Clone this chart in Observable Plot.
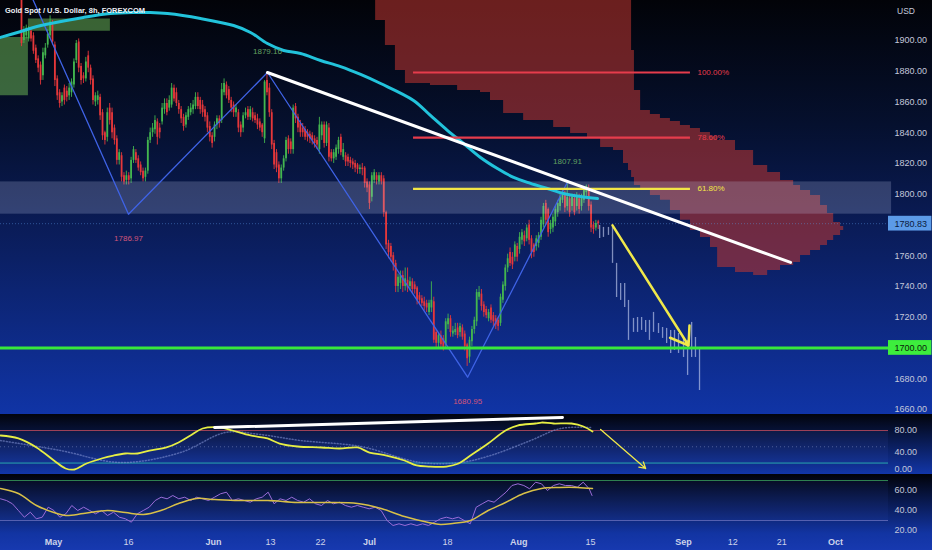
<!DOCTYPE html>
<html><head><meta charset="utf-8">
<script src="https://cdn.jsdelivr.net/npm/d3@7"></script>
<script src="https://cdn.jsdelivr.net/npm/@observablehq/plot@0.6"></script>
<style>
html,body{margin:0;padding:0;background:#02040b;}
#wrap{position:relative;width:932px;height:550px;overflow:hidden;font-family:"Liberation Sans",Arial,sans-serif;}
.pane{position:absolute;left:0;width:932px;}
.pane svg{display:block;}
#p1{top:0;height:414px;background:linear-gradient(#020308 0%,#05102e 30%,#0a1c58 55%,#1034a6 100%);}
#p2{top:414px;height:60px;background:linear-gradient(#02040c,#1236a8);}
#p3{top:474px;height:76px;background:linear-gradient(#010208 0%,#1234a2 78%,#1739b0 100%);}
#title{position:absolute;left:5px;top:6px;color:#eef1f7;font-size:7.5px;font-weight:bold;}
#usd{position:absolute;left:897px;top:6px;color:#c4c9dc;font-size:8.5px;}
</style></head>
<body><div id="wrap"><div class="pane" id="p1"></div><div class="pane" id="p2"></div><div class="pane" id="p3"></div>
<div id="title">Gold Spot / U.S. Dollar, 8h, FOREXCOM</div><div id="usd">USD</div></div>
<script>
// ---------- data (x unit = 8h bar index) ----------
const barOpen = [1926,1900,1903,1901,1906,1903,1895,1888,1884,1877,1890,1897,1903,1910,1897,1875,1866,1860,1869,1867,1864,1866,1871,1887,1899,1883,1877,1875,1890,1882,1875,1860,1861,1863,1853,
1840,1837,1856,1853,1843,1836,1822,1825,1812,1809,1812,1810,1822,1827,1823,1819,1815,1811,1815,1835,1840,1842,1847,1843,1847,1855,1859,1856,1858,1869,1866,1859,1855,1850,1845,1850,1853,1855,1857,1863,1861,1858,
1855,1851,1844,1838,1837,1845,1849,1848,1866,1871,1868,1861,1858,1853,1853,1845,1843,1851,1855,1850,1853,1851,1849,1847,1845,1836,1874,1869,1853,1833,1827,1819,1810,1817,1823,1836,1834,1829,1857,1850,1846,1843,
1842,1840,1839,1838,1836,1835,1829,1838,1845,1833,1843,1827,1823,1824,1829,1837,1824,1825,1824,1822,1821,1820,1819,1816,1817,1817,1808,1806,1798,1809,1812,1808,1812,1810,1788,1768,1766,1760,1755,1740,1742,1747,
1740,1744,1740,1743,1741,1739,1734,1732,1730,1729,1723,1726,1730,1710,1703,1708,1706,1702,1715,1719,1709,1710,1713,1710,1713,1709,1702,1694,1704,1712,1717,1733,1735,1728,1725,1719,1726,1721,1719,1718,1716,1731,
1740,1752,1762,1759,1759,1766,1764,1770,1773,1771,1780,1771,1767,1766,1768,1772,1780,1794,1790,1777,1778,1782,1788,1792,1796,1799,1792,1797,1792,1797,1792,1797,1792,1796,1801,1803,1793,1780,1778,1782];
const barHigh = [1930,1909,1910,1909,1908,1905,1897,1890,1886,1895,1898,1907,1916,1913,1899,1877,1868,1866,1871,1870,1872,1875,1888,1900,1901,1885,1879,1889,1893,1884,1877,1866,1867,1865,1855,
1841,1856,1859,1856,1845,1838,1829,1827,1814,1815,1814,1824,1831,1829,1825,1821,1817,1817,1837,1843,1846,1851,1849,1846,1859,1862,1862,1864,1872,1871,1869,1861,1857,1852,1853,1857,1859,1861,1866,1866,1863,1861,
1857,1853,1847,1840,1847,1851,1851,1872,1875,1873,1870,1863,1860,1858,1855,1847,1853,1856,1857,1857,1856,1853,1852,1849,1846,1874,1879.16,1872,1855,1835,1829,1821,1819,1825,1837,1838,1836,1858,1859,1852,1848,1846,
1844,1842,1841,1840,1838,1837,1850,1847,1847,1847,1846,1829,1829,1832,1837,1839,1833,1827,1826,1824,1823,1822,1820,1819,1820,1818,1810,1808,1814,1816,1814,1814,1814,1812,1789,1770,1768,1762,1757,1748,1750,1750,
1752,1752,1746,1745,1743,1740,1736,1734,1733,1731,1731,1743,1733,1712,1710,1711,1708,1719,1722,1721,1714,1716,1716,1716,1715,1711,1703,1707,1714,1720,1738,1740,1738,1730,1727,1725,1728,1723,1721,1720,1735,1743,
1754,1761,1765,1762,1769,1768,1775,1777,1776,1780,1783,1773,1768,1773,1775,1785,1794,1796,1791,1783,1787,1792,1796,1800,1803,1802,1807.91,1800,1800,1800,1801,1800,1800,1805,1806,1806,1795,1782,1783,1783];
const barLow = [1896,1898,1901,1899,1899,1891,1885,1879,1871,1874,1888,1895,1901,1897,1870,1861,1856,1857,1858,1860,1861,1863,1869,1885,1879,1871,1872,1873,1879,1871,1858,1857,1858,1848,1835,
1832,1834,1845,1836,1832,1819,1819,1808,1806,1806,1806,1807,1820,1820,1815,1812,1808,1808,1813,1833,1837,1839,1832,1836,1845,1852,1851,1854,1856,1860,1857,1852,1846,1841,1843,1848,1851,1852,1855,1855,1852,1850,
1847,1840,1834,1830,1834,1842,1843,1846,1864,1862,1859,1853,1850,1850,1840,1837,1840,1849,1848,1848,1847,1846,1842,1841,1837,1833,1864,1850,1829,1816,1814,1807,1807,1815,1821,1826,1826,1826,1846,1840,1837,1837,
1835,1834,1833,1832,1830,1829,1826,1835,1830,1831,1821,1821,1820,1822,1826,1825,1822,1818,1818,1817,1816,1814,1813,1813,1812,1804,1801,1790,1795,1807,1806,1806,1806,1785,1764,1758,1756,1750,1736,1736,1738,1736,
1737,1736,1737,1735,1735,1728,1728,1727,1724,1723,1721,1723,1703,1700,1700,1699,1698,1699,1712,1707,1707,1708,1706,1707,1705,1698,1688,1690,1701,1709,1714,1731,1724,1720,1719,1717,1716,1714,1712,1711,1714,1729,
1737,1749,1753,1751,1756,1756,1761,1767,1766,1769,1767,1758,1759,1763,1765,1770,1778,1780,1772,1774,1775,1779,1785,1789,1794,1788,1789,1785,1789,1786,1789,1787,1789,1794,1798,1789,1775,1774,1776,1777];
const barClose = [1898,1907,1908,1906,1901,1893,1887,1882,1874,1892,1895,1904,1912,1899,1874,1864,1859,1864,1861,1863,1869,1873,1886,1898,1882,1874,1875,1886,1882,1874,1861,1864,1864,1851,1838,
1835,1853,1848,1840,1835,1822,1827,1811,1808,1812,1809,1822,1829,1822,1817,1814,1810,1815,1835,1840,1843,1848,1837,1840,1856,1859,1853,1861,1869,1862,1859,1855,1849,1844,1851,1855,1856,1858,1863,1857,1855,1853,
1850,1843,1837,1833,1845,1849,1846,1868,1872,1864,1861,1856,1853,1856,1843,1840,1851,1853,1850,1855,1849,1848,1845,1843,1840,1873,1866,1853,1832,1819,1817,1810,1817,1823,1835,1829,1829,1856,1849,1843,1840,1840,
1837,1837,1836,1835,1833,1832,1845,1845,1833,1845,1824,1823,1827,1830,1835,1827,1829,1821,1821,1820,1819,1817,1816,1817,1816,1807,1804,1794,1812,1814,1809,1812,1808,1788,1767,1762,1759,1754,1740,1746,1747,1740,
1745,1739,1743,1738,1738,1731,1731,1729,1727,1726,1729,1731,1705,1703,1708,1702,1700,1717,1719,1710,1711,1712,1708,1714,1707,1701,1693,1705,1712,1718,1736,1736,1727,1723,1721,1723,1718,1717,1715,1714,1733,1741,
1752,1758,1755,1754,1767,1759,1772,1775,1769,1778,1770,1762,1762,1771,1773,1783,1792,1783,1775,1781,1785,1790,1794,1798,1801,1791,1798,1788,1798,1788,1799,1790,1798,1803,1805,1792,1778,1777,1781,1780.83];

// projected (ghost) bars
const ghostBar  = [242.6,244.2,246.3,248.0,249.7,251.4,253.1,254.7,256.8,258.5,260.2,261.9,263.5,265.2,267.3,269.0,270.7,272.4,274.0,275.7,277.8,279.5,281.2,282.8,284.5];
const ghostHigh = [1779.7,1778.4,1778.4,1779.7,1755,1741.9,1741.9,1730.9,1719.2,1719.8,1719.8,1717.9,1717.9,1723.1,1715.9,1713.3,1712.7,1711.4,1711.4,1709.4,1706.2,1704.9,1716.6,1706.8,1700.3];
const ghostLow  = [1771.2,1771.9,1773.2,1755,1732.8,1730.9,1726.3,1704.9,1710.1,1710.1,1711.4,1710.1,1704.9,1710.1,1709.4,1706.2,1702.9,1696.4,1698.4,1696.4,1693.8,1682.1,1693.8,1693.8,1672.3];

// moving average
const maBar = [-8.8,-1.7,5.0,12.2,26.0,37.3,47.0,54.1,61.3,75.1,89.0,96.1,103.2,110.0,117.1,125.5,133.9,142.3,150.7,164.5,171.6,178.8,185.5,192.6,199.7,206.5,213.6,220.7,227.4,234.6,241.7];
const maVal = [1902,1905.2,1908.4,1911,1915,1917.5,1918.2,1918.2,1917.5,1914.3,1909.7,1905.2,1898,1893.5,1891.5,1887,1883,1877.9,1872,1861,1851.2,1841.4,1833,1823.9,1816.7,1810.9,1807,1803.7,1800.5,1798.5,1797.2];

// ichimoku clouds
const greenCloudBar = [-9, 2.9, 37.3];
const greenCloudLo  = [1864, 1906, 1906];
const greenCloudHi  = [1902, 1914, 1914];
const redCloudBar = [144.4,148.6,152.7,156.9,161.1,171.6,183.0,192.6,196.8,202.3,210.7,223.3,230.4,237.5,243.0,248.4,252.6,254.7,256.0,257.2,259.8,263.9,268.1,272.3,276.5,280.7,284.9,289.1,292.1,299.6,307.2,313.1,318.5,324.0,326.9,331.1,335.3,338.2,340.8,343.7,345.0];
const redCloudHi  = [1940,1940,1940,1940,1940,1940,1940,1940,1940,1940,1940,1940,1940,1940,1940,1940,1940,1926,1893.5,1867.5,1854.5,1851.9,1849.3,1847.3,1844.7,1842.7,1840.1,1837.5,1834.9,1828.4,1818.7,1814.1,1808.9,1805.7,1802.4,1799.2,1792.7,1787.5,1781.6,1779,1779];
const redCloudLo  = [1926,1913,1896.7,1880.5,1872,1870.7,1867.5,1866.2,1861,1852.5,1848,1843.4,1839.5,1836.9,1830.4,1828.4,1820,1815.4,1810.9,1805.7,1802.4,1799.2,1796,1789.4,1783,1776.4,1771.9,1765.4,1752.3,1749.1,1747.1,1750.4,1753.6,1755.6,1760.1,1763.4,1766.6,1769.9,1773.2,1776.4,1776.4];

// drawings
const zzBar = [3.1, 44.9, 103.2, 187.2, 229.1];
const zzPrice = [1932.5, 1786.97, 1879.16, 1680.95, 1807.91];
const fibLevels = [1879.16, 1836.75, 1803.45];
const fibLabels = ["100.00%", "78.60%", "61.80%"];
const fibFrom = 164.5, fibTo = 280.7;
const trendBar = [103.2, 322.7], trendPrice = [1879.16, 1755.6];
const arrowBar = [248, 279.9], arrowPrice = [1779.7, 1701.6];
const zoneLow = 1787, zoneHigh = 1808;
const supportLevel = 1700, lastPrice = 1780.83;
const priceTicks = [1660,1680,1700,1720,1740,1760,1780,1800,1820,1840,1860,1880,1900];

// oscillator 1 (stochastic)
const stochBar = [-8.8,-1.3,6.3,13.6,18.5,22.2,27.3,33.6,38.6,43.6,48.7,53.7,60.8,65.9,70.9,76.0,83.5,88.5,96.1,103.2,108.3,115.8,125.9,133.4,141.0,146.0,153.2,160.7,165.8,170.8,178.3,183.4,188.4,195.8,203.1,208.1,215.7,218.2,223.2,230.8,235.8,239.6];
const stochK = [70.8,65.3,48.7,24.7,10.0,8.1,19.2,28.4,33.9,37.6,37.6,43.1,48.7,57.9,70.8,83.7,85.5,80.0,70.8,65.3,56.0,50.5,48.7,46.8,48.7,39.4,33.9,24.7,15.5,13.6,13.6,19.2,33.9,56.0,80.0,89.2,92.9,94.7,92.9,92.9,87.4,78.2];
const sigBar = [-8.8,16.4,41.5,66.7,85.6,100.3,117.1,142.3,167.4,184.2,196.8,213.6,226.2,238.8];
const sigD = [61.5,43.1,21,39.4,76.3,72.6,61.5,50.5,21,21,33.9,61.5,83.7,85.5];
const stochTrendBar = [81.0, 227.0], stochTrendVal = [85.5, 103.9];
const stochArrowBar = [243.0, 261.9], stochArrowVal = [81.8, 10.0];
const stochTicks = [0, 40, 80];

// oscillator 2 (RSI)
const rsiBar = [-8.8,-6.3,-3.8,-1.3,1.2,3.7,6.2,8.7,11.2,13.6,16.1,18.6,21.1,23.6,26.1,28.6,31.1,33.6,36.1,38.6,41.1,43.6,46.1,48.6,51.1,53.6,56.1,58.6,61.1,63.5,66.0,68.5,71.0,73.5,76.0,78.5,81.0,83.5,86.0,88.5,91.0,93.5,96.0,98.5,101.0,103.5,106.0,108.5,111.0,113.4,115.9,118.4,120.9,123.4,125.9,128.4,130.9,133.4,135.9,138.4,140.9,143.4,145.9,148.4,150.9,153.4,155.9,158.4,160.9,163.4,165.9,168.3,170.8,173.3,175.8,178.3,180.8,183.3,185.8,188.3,190.8,193.3,195.8,198.3,200.8,203.3,205.8,208.3,210.8,213.2,215.7,218.2,220.7,223.2,225.7,228.2,230.7,233.2,235.7,238.2,239.4];
const rsiVal = [51.7,50,46.7,40,33.3,38.3,31.7,33.3,43.3,40,33.3,36.7,45,40,43.3,40,36.7,40,35,38.3,33.3,31.7,28.3,36.7,40,43.3,50,53.3,51.7,55,51.7,53.3,50,53.3,51.7,50,53.3,56.7,58.3,50,51.7,50,48.3,51.7,53.3,58.3,46.7,51.7,50,53.3,50,48.3,51.7,46.7,45,50,46.7,48.3,45,43.3,45,43.3,41.7,43.3,40,30,25,26.7,25,26.7,25,26.7,25,28.3,31.7,33.3,31.7,33.3,30,26.7,43.3,46.7,50,48.3,53.3,58.3,65,66.7,65,61.7,68.3,66.7,60,65,66.7,65,65,63.3,68.3,61.7,55];
const rsiMaBar = [-8.8,-1.3,6.3,13.6,18.5,26.0,36.1,43.6,51.2,58.5,65.9,73.4,81.0,91.1,103.4,115.8,128.4,141.0,150.9,160.7,170.8,175.8,180.9,188.4,195.8,203.1,210.7,218.2,225.8,233.3,239.6];
const rsiMa = [62,57,45,38,35,37,40,38,36,40,47,52,51,50,50,48,48,47,42,34,28,26,27,30,40,48,57,62,63,63,62];
const rsiTicks = [20, 40, 60];

// time axis
const tickBars = [13.4,44.9,80.6,104.5,125.5,146.0,178.8,208.6,238.8,277.8,298.4,319.0,341.6];
const tickLabels = ["May","16","Jun","13","22","Jul","18","Aug","15","Sep","12","21","Oct"];

// ---------- build ----------
const xMin = -8.81, xMax = 363.8;
const W = 932, MR = 44;
const candles = barOpen.map((o, i) => ({i, o, h: barHigh[i], l: barLow[i], c: barClose[i]}));
const up = d => d.c >= d.o ? "#43b64f" : "#e5373a";
const ghosts = ghostBar.map((b, i) => ({b, h: ghostHigh[i], l: ghostLow[i]}));
const ma = maBar.map((b, i) => ({b, v: maVal[i]}));
const gCloud = greenCloudBar.map((b, i) => ({b, lo: greenCloudLo[i], hi: greenCloudHi[i]}));
const rCloud = redCloudBar.map((b, i) => ({b, lo: redCloudLo[i], hi: redCloudHi[i]}));
const zz = zzBar.map((b, i) => ({b, p: zzPrice[i], i}));
const zzLows = zz.filter(d => d.i % 2 === 1), zzHighs = zz.filter(d => d.i > 0 && d.i % 2 === 0);
const fibs = fibLevels.map((v, i) => ({v, label: fibLabels[i], i}));
const fibColor = d => d.i === 2 ? "#f2e646" : "#e63c4c";
const axisFill = "#c3c8da";
const font = "Liberation Sans, Arial, sans-serif";

const main = Plot.plot({
  width: W, height: 414, marginLeft: 0, marginRight: MR, marginTop: 0, marginBottom: 0,
  style: {background: "transparent", overflow: "visible", fontFamily: font},
  x: {domain: [xMin, xMax], axis: null},
  y: {domain: [1656.7, 1926], axis: null},
  marks: [
    Plot.areaY(gCloud, {x: "b", y1: "lo", y2: "hi", curve: "step-after", fill: "#68b054", fillOpacity: 0.55, clip: true}),
    Plot.areaY(rCloud, {x: "b", y1: "lo", y2: "hi", curve: "step-after", fill: "#c33732", fillOpacity: 0.55, clip: true}),
    Plot.ruleX(candles, {x: "i", y1: "l", y2: "h", stroke: up, strokeWidth: 0.9, clip: true}),
    Plot.ruleX(candles, {x: "i", y1: "o", y2: "c", stroke: up, strokeWidth: 1.8, clip: true}),
    Plot.rect([0], {x1: xMin, x2: xMax + 1.3, y1: zoneLow, y2: zoneHigh, fill: "#c8d0f0", fillOpacity: 0.22}),
    Plot.ruleY([lastPrice], {stroke: "#5c9be8", strokeOpacity: 0.45, strokeDasharray: "1,2"}),
    Plot.ruleX(ghosts, {x: "b", y1: "l", y2: "h", stroke: "#c0cbee", strokeOpacity: 0.65, strokeWidth: 1.3}),
    Plot.line(zz, {x: "b", y: "p", stroke: "#3f63e6", strokeWidth: 1.3, clip: true}),
    Plot.line(ma, {x: "b", y: "v", curve: "catmull-rom", stroke: "#22c3db", strokeWidth: 3, clip: true}),
    Plot.ruleY(fibs, {y: "v", x1: fibFrom, x2: fibTo, stroke: fibColor, strokeWidth: 2.2}),
    Plot.text(fibs, {y: "v", x: fibTo, text: "label", textAnchor: "start", dx: 7, fill: fibColor, fontSize: 8}),
    Plot.line(trendBar.map((b, i) => ({b, p: trendPrice[i]})), {x: "b", y: "p", stroke: "#ffffff", strokeWidth: 3}),
    Plot.ruleY([supportLevel], {stroke: "#38e83a", strokeWidth: 3}),
    Plot.arrow([0], {x1: arrowBar[0], y1: arrowPrice[0], x2: arrowBar[1], y2: arrowPrice[1], stroke: "#f0e84a", strokeWidth: 2.5, headLength: 12, headAngle: 70}),
    Plot.text(zzLows, {x: "b", y: "p", text: d => d.p.toFixed(2), dy: 24, fill: "#d2557a", fontSize: 8}),
    Plot.text(zzHighs, {x: "b", y: "p", text: d => d.p.toFixed(2), dy: -21, fill: "#62a062", fontSize: 8}),
    Plot.axisY({anchor: "right", label: null, ticks: priceTicks, tickFormat: d => d.toFixed(2), tickSize: 0, tickPadding: 6, fill: axisFill, fontSize: 9}),
    Plot.rect([supportLevel], {x1: xMax, x2: xMax + 18.2, y1: d => d - 4.8, y2: d => d + 4.8, fill: "#3ded3d"}),
    Plot.text([supportLevel], {x: xMax, y: d => d, text: d => d.toFixed(2), textAnchor: "start", dx: 6, fill: "#0a200a", fontSize: 9}),
    Plot.rect([lastPrice], {x1: xMax, x2: xMax + 18.2, y1: d => d - 4.8, y2: d => d + 4.8, fill: "#5c9be8"}),
    Plot.text([lastPrice], {x: xMax, y: d => d, text: d => d.toFixed(2), textAnchor: "start", dx: 6, fill: "#0b1a3c", fontSize: 9})
  ]
});
document.getElementById("p1").appendChild(main);

const stoch = Plot.plot({
  width: W, height: 60, marginLeft: 0, marginRight: MR, marginTop: 0, marginBottom: 0,
  style: {background: "transparent", overflow: "hidden", fontFamily: font},
  x: {domain: [xMin, xMax], axis: null},
  y: {domain: [-1.1, 109.5], axis: null},
  marks: [
    Plot.rect([0], {x1: xMin, x2: xMax, y1: 20, y2: 80, fill: "#4a64d0", fillOpacity: 0.09}),
    Plot.ruleY([80], {stroke: "#9c4058", strokeWidth: 1}),
    Plot.ruleY([20], {stroke: "#2aa8b0", strokeWidth: 1}),
    Plot.ruleY([50], {stroke: "#8a98c8", strokeOpacity: 0.5, strokeDasharray: "1,3"}),
    Plot.line(sigBar.map((b, i) => ({b, v: sigD[i]})), {x: "b", y: "v", curve: "catmull-rom", stroke: "#7f8fd0", strokeOpacity: 0.6, strokeDasharray: "1,2", clip: true}),
    Plot.line(stochBar.map((b, i) => ({b, v: stochK[i]})), {x: "b", y: "v", curve: "catmull-rom", stroke: "#e6ee44", strokeWidth: 1.8, clip: true}),
    Plot.line(stochTrendBar.map((b, i) => ({b, v: stochTrendVal[i]})), {x: "b", y: "v", stroke: "#ffffff", strokeWidth: 3}),
    Plot.arrow([0], {x1: stochArrowBar[0], y1: stochArrowVal[0], x2: stochArrowBar[1], y2: stochArrowVal[1], stroke: "#f0e84a", strokeWidth: 1.3, headLength: 8}),
    Plot.axisY({anchor: "right", label: null, ticks: stochTicks.filter(t => t > 0), tickFormat: d => d.toFixed(2), tickSize: 0, tickPadding: 6, fill: axisFill, fontSize: 9}),
    Plot.text(stochTicks.filter(t => t === 0), {x: xMax, y: d => d, text: d => d.toFixed(2), textAnchor: "start", dx: 6, dy: -5, fill: axisFill, fontSize: 9})
  ]
});
document.getElementById("p2").appendChild(stoch);

const months = new Set(["May","Jun","Jul","Aug","Sep","Oct"]);
const tickObjs = tickBars.map((b, i) => ({b, label: tickLabels[i]}));
const rsi = Plot.plot({
  width: W, height: 76, marginLeft: 0, marginRight: MR, marginTop: 0, marginBottom: 14,
  style: {background: "transparent", overflow: "visible", fontFamily: font},
  x: {domain: [xMin, xMax], axis: null},
  y: {domain: [14, 76], axis: null},
  marks: [
    Plot.rect([0], {x1: xMin, x2: xMax, y1: 30, y2: 70, fill: "#4a64d0", fillOpacity: 0.07}),
    Plot.ruleY([70], {stroke: "#2e8050", strokeWidth: 1}),
    Plot.ruleY([30], {stroke: "#5560b0", strokeWidth: 1}),
    Plot.line(rsiBar.map((b, i) => ({b, v: rsiVal[i]})), {x: "b", y: "v", stroke: "#9a6cd8", strokeWidth: 1, clip: true}),
    Plot.line(rsiMaBar.map((b, i) => ({b, v: rsiMa[i]})), {x: "b", y: "v", curve: "catmull-rom", stroke: "#d8c048", strokeWidth: 1.5, clip: true}),
    Plot.axisY({anchor: "right", label: null, ticks: rsiTicks, tickFormat: d => d.toFixed(2), tickSize: 0, tickPadding: 6, fill: axisFill, fontSize: 9}),
    Plot.text(tickObjs.filter(d => months.has(d.label)), {x: "b", frameAnchor: "bottom", dy: 8, text: "label", fill: "#cdd3ea", fontSize: 9, fontWeight: "bold"}),
    Plot.text(tickObjs.filter(d => !months.has(d.label)), {x: "b", frameAnchor: "bottom", dy: 8, text: "label", fill: "#cdd3ea", fontSize: 9})
  ]
});
document.getElementById("p3").appendChild(rsi);
</script></body></html>
